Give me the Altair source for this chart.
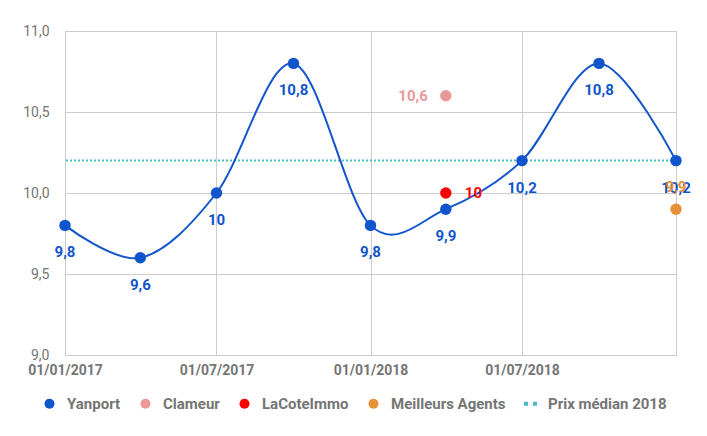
import altair as alt
import pandas as pd

# ---- data ----
yan_dates = ["2017-01-01", "2017-04-01", "2017-07-01", "2017-10-01", "2018-01-01",
             "2018-04-01", "2018-07-01", "2018-10-01", "2019-01-01"]
yan_values = [9.8, 9.6, 10.0, 10.8, 9.8, 9.9, 10.2, 10.8, 10.2]
clameur_dates = ["2018-04-01"]
clameur_values = [10.6]
lacote_dates = ["2018-04-01"]
lacote_values = [10.0]
ma_dates = ["2019-01-01"]
ma_values = [9.9]
median_2018 = [10.2]

series_names = ["Yanport", "Clameur", "LaCoteImmo", "Meilleurs Agents", "Prix médian 2018"]
series_colors = ["#1155cc", "#ea9999", "#ff0000", "#e69138", "#46bdc6"]
x_ticks = ["2017-01-01", "2017-07-01", "2018-01-01", "2018-07-01", "2019-01-01"]

rows = []
for name, ds, vs in [("Yanport", yan_dates, yan_values),
                     ("Clameur", clameur_dates, clameur_values),
                     ("LaCoteImmo", lacote_dates, lacote_values),
                     ("Meilleurs Agents", ma_dates, ma_values)]:
    for d, v in zip(ds, vs):
        rows.append({"date": d, "value": v, "series": name})
df = pd.DataFrame(rows)
med_df = pd.DataFrame({"value": median_2018})


def dt(s):
    y, m, d = (int(p) for p in s.split("-"))
    return alt.DateTime(year=y, month=m, date=d, utc=True)


FONT = "Roboto"
GRAY = "#757575"

x_enc = alt.X(
    "date:T",
    scale=alt.Scale(type="utc", domain=[dt(x_ticks[0]), dt(x_ticks[-1])]),
    axis=alt.Axis(
        title=None, values=[dt(t) for t in x_ticks],
        labelExpr="utcyear(datum.value) == 2019 ? '' : utcFormat(datum.value, '%d/%m/%Y')",
        grid=True, gridColor="#cccccc", domain=False, ticks=False,
        labelFont=FONT, labelFontSize=14, labelFontWeight="bold", labelColor=GRAY,
        labelPadding=8, labelFlush=False, labelOverlap=False,
    ),
)
y_enc = alt.Y(
    "value:Q",
    scale=alt.Scale(domain=[9, 11], nice=False, zero=False),
    axis=alt.Axis(
        title=None, values=[9, 9.5, 10, 10.5, 11],
        labelExpr="replace(format(datum.value, '.1f'), '.', ',')",
        grid=True, gridColor="#cccccc", domain=False, ticks=False,
        labelFont=FONT, labelFontSize=14, labelColor=GRAY, labelPadding=16,
    ),
)

base = alt.Chart(df)

rule = alt.Chart(med_df).mark_rule(strokeDash=[2, 2], strokeWidth=2, color=series_colors[4]).encode(
    y=alt.Y("value:Q", scale=alt.Scale(domain=[9, 11], nice=False, zero=False))
)

line = base.transform_filter(alt.datum.series == "Yanport").mark_line(
    interpolate="cardinal", tension=0, strokeWidth=2, color=series_colors[0]
).encode(x=x_enc, y=y_enc)

pts = base.mark_point(filled=True, size=130, opacity=1).encode(
    x=x_enc, y=y_enc,
    color=alt.Color("series:N", scale=alt.Scale(domain=series_names, range=series_colors),
                    legend=alt.Legend(title=None)),
    shape=alt.Shape("series:N", scale=alt.Scale(
        domain=series_names,
        range=["circle", "circle", "circle", "circle",
               "M-1.3,-0.4H-0.5V0.4H-1.3Z M0.5,-0.4H1.3V0.4H0.5Z"]),
        legend=alt.Legend(title=None)),
)


def labels(name, color, **kw):
    return base.transform_filter(alt.datum.series == name).transform_calculate(
        lbl="replace(toString(datum.value), '.', ',')"
    ).mark_text(font=FONT, fontSize=15, fontWeight="bold", baseline="middle", **kw).encode(
        x=x_enc, y=y_enc, text="lbl:N", color=alt.value(color)
    )


t_yan = labels("Yanport", series_colors[0], dy=27, align="center")
t_cla = labels("Clameur", series_colors[1], dx=-18, align="right")
t_lac = labels("LaCoteImmo", series_colors[2], dx=19, align="left")
t_ma = labels("Meilleurs Agents", series_colors[3], dy=-22, align="center")

chart = alt.layer(rule, line, pts, t_yan, t_cla, t_lac, t_ma).properties(
    width=611, height=324,
    autosize="none",
    padding={"left": 65, "top": 31, "right": 31, "bottom": 81},
).configure_view(stroke=None).configure_legend(
    orient="none", legendX=-23, legendY=365, direction="horizontal",
    labelFont=FONT, labelFontSize=15, labelFontWeight="bold", labelColor=GRAY,
    symbolSize=100, symbolStrokeWidth=0, columnPadding=17, labelOffset=10,
)

chart.save("out.html", embed_options={"renderer": "svg", "actions": False})
